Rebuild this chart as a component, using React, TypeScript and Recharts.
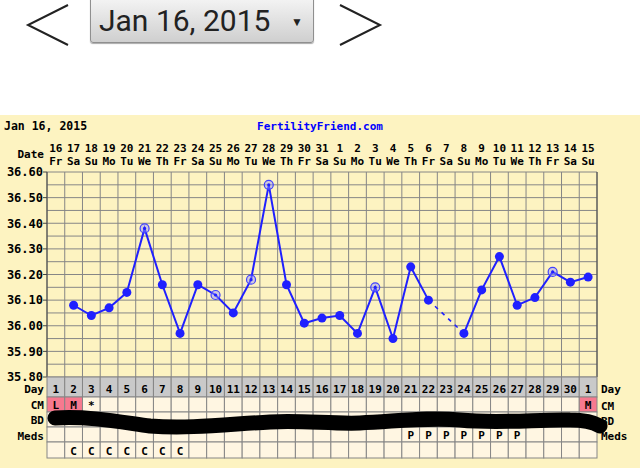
import React from 'react';
import {
  ComposedChart,
  CartesianGrid,
  XAxis,
  YAxis,
  Line
} from 'recharts';

// cycle days and calendar labels
const cycleDays = [
  1, 2, 3, 4, 5, 6, 7, 8, 9, 10, 11, 12, 13, 14, 15, 16,
  17, 18, 19, 20, 21, 22, 23, 24, 25, 26, 27, 28, 29, 30, 1
];
const dates = [
  16, 17, 18, 19, 20, 21, 22, 23, 24, 25, 26, 27, 28, 29, 30, 31,
  1, 2, 3, 4, 5, 6, 7, 8, 9, 10, 11, 12, 13, 14, 15
];
const weekdays = [
  'Fr', 'Sa', 'Su', 'Mo', 'Tu', 'We', 'Th', 'Fr', 'Sa', 'Su', 'Mo', 'Tu', 'We', 'Th', 'Fr', 'Sa',
  'Su', 'Mo', 'Tu', 'We', 'Th', 'Fr', 'Sa', 'Su', 'Mo', 'Tu', 'We', 'Th', 'Fr', 'Sa', 'Su'
];

// temperatures (null = not recorded)
const temps = [
  null, 36.08, 36.04, 36.07, 36.13, 36.38, 36.16, 35.97, 36.16, 36.12, 36.05,
  36.18, 36.55, 36.16, 36.01, 36.03, 36.04, 35.97, 36.15, 35.95, 36.23, 36.1,
  null, 35.97, 36.14, 36.27, 36.08, 36.11, 36.21, 36.17, 36.19
];
// open circles
const openDays = [6, 10, 12, 13, 19, 29];

const cmMarks = ['L', 'M', '*', '', '', '', '', '', '', '', '', '', '', '', '', '', '', '', '', '', '', '', '', '', '', '', '', '', '', '', 'M'];
const cmPink = ['L', 'M'];
const meds = ['', '', '', '', '', '', '', '', '', '', '', '', '', '', '', '', '', '', '', '', 'P', 'P', 'P', 'P', 'P', 'P', 'P', '', '', '', ''];
const extraRow = ['', 'C', 'C', 'C', 'C', 'C', 'C', 'C', '', '', '', '', '', '', '', '', '', '', '', '', '', '', '', '', '', '', '', '', '', '', ''];

const yTicks = [35.8, 35.9, 36.0, 36.1, 36.2, 36.3, 36.4, 36.5, 36.6];

const data = cycleDays.map((d, i) => ({
  x: i + 1,
  temp: temps[i],
  open: openDays.includes(i + 1)
}));

// dashed bridge over the missing day
const rows = data.map((r, i) => ({
  ...r,
  bridge: i === 21 || i === 23 ? temps[i] : null
}));

const FONT = "'DejaVu Sans Mono', monospace";
const PANEL = '#fdf3c1';
const CELL = '#fff6e2';
const GRID = '#868686';
const BLUE = '#2020ff';

const TOP_H = 57;
const BOTTOM_H = 91;
const CHART_W = 640;
const CHART_H = 353;
const ROW_Y = [262, 282, 297, 312, 327, 343];

const DateTick = (props: any) => {
  const { x, index } = props;
  return (
    <g>
      <text x={x} y={37} textAnchor="middle" fontFamily={FONT} fontWeight="bold" fontSize={11} fill="#000">
        {dates[index]}
      </text>
      <text x={x} y={50} textAnchor="middle" fontFamily={FONT} fontWeight="bold" fontSize={11} fill="#000">
        {weekdays[index]}
      </text>
    </g>
  );
};

const TableTick = (props: any) => {
  const { x, index, width } = props;
  const w = (width || 550) / cycleDays.length;
  const left = x - w / 2;
  const cells = [
    { text: String(cycleDays[index]), fill: '#c9c9c9' },
    { text: cmMarks[index], fill: cmPink.includes(cmMarks[index]) ? '#f7798f' : CELL },
    { text: '', fill: CELL },
    { text: meds[index], fill: CELL },
    { text: extraRow[index], fill: CELL }
  ];
  return (
    <g>
      {cells.map((c, k) => (
        <g key={k}>
          <rect
            x={left}
            y={ROW_Y[k]}
            width={w}
            height={ROW_Y[k + 1] - ROW_Y[k]}
            fill={c.fill}
            stroke={GRID}
            strokeWidth={1}
          />
          {c.text && (
            <text
              x={x}
              y={k === 0 ? 278 : ROW_Y[k + 1] - 3}
              textAnchor="middle"
              fontFamily={FONT}
              fontWeight="bold"
              fontSize={11}
              fill="#000"
            >
              {c.text}
            </text>
          )}
        </g>
      ))}
    </g>
  );
};

const TempDot = (props: any) => {
  const { cx, cy, payload, index } = props;
  if (payload.temp == null || cx == null) return <g key={index} />;
  if (payload.open) {
    return (
      <g key={index}>
        <circle cx={cx} cy={cy} r={4.5} fill="rgba(150,150,255,0.45)" stroke="#4040ff" strokeWidth={1.2} />
        <circle cx={cx} cy={cy} r={1.6} fill={BLUE} />
      </g>
    );
  }
  return <circle key={index} cx={cx} cy={cy} r={4.5} fill={BLUE} />;
};

const Chevron = ({ left, flip }: { left: number; flip?: boolean }) => (
  <svg
    width={46}
    height={46}
    style={{ position: 'absolute', left, top: 3 }}
  >
    <polyline
      points={flip ? '2,2 42,22 2,42' : '43,2 3,22 43,42'}
      fill="none"
      stroke="#222"
      strokeWidth={2}
    />
  </svg>
);

const labelStyle = {
  fontFamily: FONT,
  fontWeight: 'bold' as const,
  fontSize: 11,
  fill: '#000'
};

export default function App() {
  return (
    <div style={{ position: 'relative', width: 640, height: 468, background: '#fff', overflow: 'hidden' }}>
      <style>{'body{margin:0}'}</style>
      <Chevron left={25} />
      <div
        style={{
          position: 'absolute',
          left: 90,
          top: -3,
          width: 224,
          height: 46,
          border: '1px solid #8f8f8f',
          borderRadius: 3,
          background: 'linear-gradient(#f4f4f4, #cfcfcf)',
          boxShadow: '0 1px 1px #aaa',
          fontFamily: 'Roboto, sans-serif',
          fontSize: 30,
          color: '#222',
          lineHeight: '46px',
          paddingLeft: 8,
          boxSizing: 'border-box'
        }}
      >
        Jan 16, 2015
        <span style={{ position: 'absolute', left: 200, top: 1, fontSize: 12 }}>▼</span>
      </div>
      <Chevron left={338} flip />

      <div style={{ position: 'absolute', left: 0, top: 115, width: CHART_W, height: CHART_H, background: PANEL }}>
        <ComposedChart
          width={CHART_W}
          height={CHART_H}
          data={rows}
          margin={{ top: 0, right: 0, bottom: 0, left: 0 }}
        >
          <CartesianGrid
            stroke={GRID}
            verticalCoordinatesGenerator={({ offset }: any) =>
              Array.from({ length: cycleDays.length + 1 }, (_, i) => offset.left + (i * offset.width) / cycleDays.length)
            }
            horizontalCoordinatesGenerator={({ offset }: any) =>
              Array.from({ length: 17 }, (_, i) => offset.top + (i * offset.height) / 16)
            }
          />
          <XAxis
            dataKey="x"
            type="number"
            domain={[0.5, 31.5]}
            ticks={data.map((r) => r.x)}
            interval={0}
            height={BOTTOM_H}
            axisLine={false}
            tickLine={false}
            tick={(p: any) => <TableTick key={p.index} {...p} />}
          />
          <XAxis
            xAxisId="top"
            orientation="top"
            dataKey="x"
            type="number"
            domain={[0.5, 31.5]}
            ticks={data.map((r) => r.x)}
            interval={0}
            height={TOP_H}
            axisLine={false}
            tickLine={false}
            tick={(p: any) => <DateTick key={p.index} {...p} />}
          />
          <YAxis
            type="number"
            domain={[35.8, 36.6]}
            ticks={yTicks}
            width={47}
            tickSize={4}
            tickMargin={0}
            interval={0}
            stroke="#444"
            tick={{ fill: '#000', fontSize: 12, fontFamily: FONT, fontWeight: 'bold' }}
            tickFormatter={(v: number) => v.toFixed(2)}
          />
          <YAxis
            yAxisId="right"
            orientation="right"
            type="number"
            domain={[35.8, 36.6]}
            ticks={yTicks}
            width={43}
            tickSize={4}
            tickMargin={0}
            interval={0}
            stroke="#444"
            tick={{ fill: '#000', fontSize: 12, fontFamily: FONT, fontWeight: 'bold' }}
            tickFormatter={(v: number) => v.toFixed(2)}
          />
          <Line
            dataKey="bridge"
            type="linear"
            stroke={BLUE}
            strokeWidth={1.6}
            strokeDasharray="4 5"
            connectNulls
            dot={false}
            activeDot={false}
            isAnimationActive={false}
          />
          <Line
            dataKey="temp"
            type="linear"
            stroke={BLUE}
            strokeWidth={2}
            connectNulls={false}
            dot={TempDot}
            activeDot={false}
            isAnimationActive={false}
          />
        </ComposedChart>

        <svg
          width={CHART_W}
          height={CHART_H}
          style={{ position: 'absolute', left: 0, top: 0, pointerEvents: 'none' }}
        >
          <text x={4} y={15} {...labelStyle} fontSize={11.5}>Jan 16, 2015</text>
          <text x={320} y={15} textAnchor="middle" {...labelStyle} fill="#0000ff">FertilityFriend.com</text>
          <text x={44} y={43} textAnchor="end" {...labelStyle}>Date</text>
          <text x={44} y={278} textAnchor="end" {...labelStyle}>Day</text>
          <text x={44} y={294} textAnchor="end" {...labelStyle}>CM</text>
          <text x={44} y={309} textAnchor="end" {...labelStyle}>BD</text>
          <text x={44} y={325} textAnchor="end" {...labelStyle}>Meds</text>
          <text x={601} y={278} {...labelStyle}>Day</text>
          <text x={601} y={295} {...labelStyle}>CM</text>
          <text x={601} y={310} {...labelStyle}>BD</text>
          <text x={601} y={325} {...labelStyle}>Meds</text>
          {/* hand-drawn redaction over the BD row */}
          <path
            d="M55,303 C90,301 120,307 150,311 C190,314 230,309 270,307 C300,305 330,309 360,308 C400,306 430,302 460,305 C500,309 540,304 570,305 C585,305 595,308 600,311"
            fill="none"
            stroke="#000"
            strokeWidth={15}
            strokeLinecap="round"
          />
        </svg>
      </div>
    </div>
  );
}
